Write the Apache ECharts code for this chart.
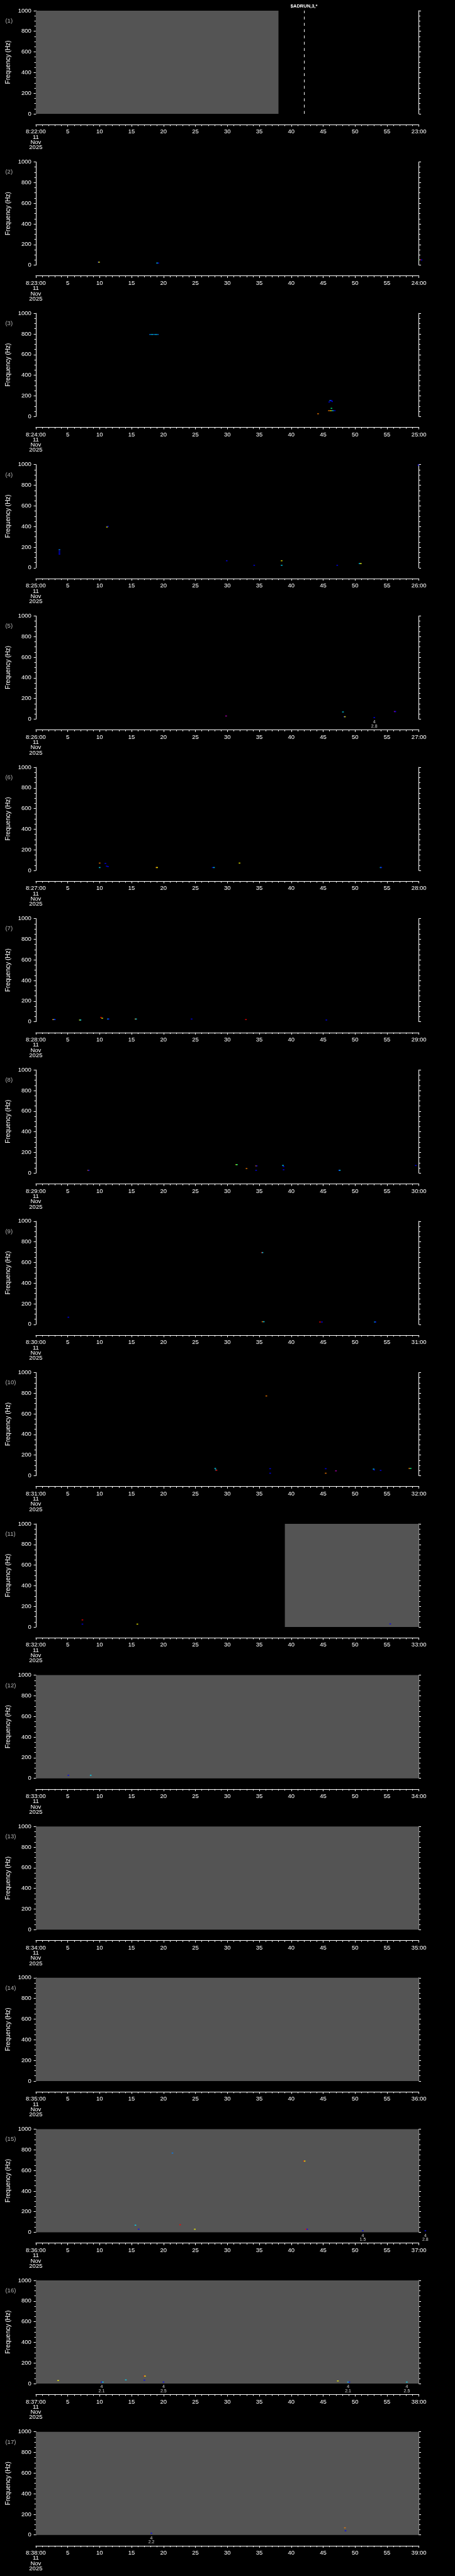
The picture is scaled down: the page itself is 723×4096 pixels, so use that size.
<!DOCTYPE html>
<html>
<head>
<meta charset="utf-8">
<script src="https://cdn.jsdelivr.net/npm/echarts@6/dist/echarts.min.js"></script>
<style>
html, body { margin: 0; padding: 0; background: #000; }
#main { width: 723px; height: 4096px; }
</style>
</head>
<body>
<div id="main"></div>
<script>
// time labels of each one-minute panel
var startLabels = ['8:22:00', '8:23:00', '8:24:00', '8:25:00', '8:26:00', '8:27:00', '8:28:00', '8:29:00', '8:30:00',
  '8:31:00', '8:32:00', '8:33:00', '8:34:00', '8:35:00', '8:36:00', '8:37:00', '8:38:00'];
var endLabels = ['23:00', '24:00', '25:00', '26:00', '27:00', '28:00', '29:00', '30:00', '31:00',
  '32:00', '33:00', '34:00', '35:00', '36:00', '37:00', '38:00', '39:00'];
var dateLines = ['11', 'Nov', '2025'];

// [panel, from s, to s] : no-data (gray) spans
var grayRanges = [[0, 0, 38], [10, 39, 60], [11, 0, 60], [12, 0, 60], [13, 0, 60], [14, 0, 60], [15, 0, 60], [16, 0, 60]];

// [panel, s, text] : dashed event line
var eventLines = [[0, 42, '$ADRUN,3,*']];

var dotColors = ['#0000ff', '#0080ff', '#00e0ff', '#00ff80', '#ffff00', '#ff8000', '#ff0000', '#c000c0'];

// [panel, s, Hz, colour index]
var dots = [
  [1, 9.8, 29, 0], [1, 9.9, 29, 4], [1, 19.0, 20, 2], [1, 19.2, 20, 0], [1, 60.1, 52, 3], [1, 60.2, 52, 6], [1, 60.4, 50, 0],
  [2, 17.9, 795, 1], [2, 18.2, 795, 2], [2, 18.5, 795, 1], [2, 18.8, 795, 2], [2, 19.1, 795, 1],
  [2, 45.95, 140, 0], [2, 46.1, 155, 1], [2, 46.3, 155, 0], [2, 46.4, 145, 0], [2, 46.3, 79, 3],
  [2, 45.9, 56, 5], [2, 46.2, 56, 4], [2, 46.5, 56, 2], [2, 46.8, 56, 0], [2, 44.2, 26, 5],
  [3, 3.7, 175, 1], [3, 3.7, 160, 0], [3, 3.7, 145, 0], [3, 3.7, 132, 0], [3, 11.15, 395, 4], [3, 11.3, 402, 0],
  [3, 29.9, 68, 0], [3, 34.2, 24, 0], [3, 38.5, 68, 4], [3, 38.5, 24, 2], [3, 47.2, 24, 0], [3, 50.7, 41, 2], [3, 50.9, 41, 4],
  [3, 59.9, 995, 0],
  [4, 29.8, 30, 7], [4, 48.1, 69, 2], [4, 48.3, 23, 0], [4, 48.4, 23, 4], [4, 53.0, 15, 0], [4, 56.2, 73, 7], [4, 56.3, 73, 0],
  [5, 10.0, 71, 5], [5, 10.0, 28, 2], [5, 10.9, 68, 0], [5, 11.1, 41, 0], [5, 11.3, 38, 0], [5, 18.9, 28, 5], [5, 19.0, 28, 4],
  [5, 27.7, 28, 0], [5, 27.9, 28, 2], [5, 31.9, 71, 4], [5, 54.0, 28, 2], [5, 54.1, 28, 0],
  [6, 2.7, 21, 5], [6, 2.9, 21, 2], [6, 3.0, 21, 0], [6, 6.9, 17, 4], [6, 7.0, 17, 2], [6, 10.2, 42, 6], [6, 10.4, 34, 4],
  [6, 11.3, 26, 2], [6, 11.4, 26, 0], [6, 15.6, 26, 5], [6, 15.7, 26, 2], [6, 24.4, 26, 0], [6, 32.9, 21, 6], [6, 45.5, 17, 0],
  [7, 8.2, 27, 5], [7, 8.3, 27, 0], [7, 31.4, 82, 4], [7, 31.5, 82, 3], [7, 33.0, 44, 5], [7, 34.5, 70, 5], [7, 34.6, 70, 0],
  [7, 34.5, 27, 0], [7, 38.7, 74, 2], [7, 38.8, 63, 0], [7, 38.8, 32, 0], [7, 47.5, 27, 0], [7, 47.6, 27, 2], [7, 59.5, 73, 0],
  [8, 5.1, 69, 0], [8, 35.4, 696, 6], [8, 35.5, 696, 2], [8, 35.5, 26, 5], [8, 35.7, 26, 2], [8, 44.5, 23, 6], [8, 44.8, 23, 0],
  [8, 53.1, 23, 2], [8, 53.2, 23, 0],
  [9, 36.1, 773, 5], [9, 28.1, 71, 2], [9, 28.2, 56, 2], [9, 28.3, 53, 6], [9, 36.7, 68, 0], [9, 36.7, 24, 0],
  [9, 45.4, 68, 0], [9, 45.4, 24, 5], [9, 47.0, 47, 7], [9, 52.9, 64, 2], [9, 53.0, 56, 0], [9, 54.0, 51, 0],
  [9, 58.5, 71, 5], [9, 58.7, 71, 3],
  [10, 7.3, 69, 6], [10, 7.3, 28, 0], [10, 15.9, 28, 4], [10, 55.5, 30, 0],
  [11, 5.1, 30, 0], [11, 8.6, 30, 2],
  [14, 21.4, 768, 1], [14, 42.0, 690, 6], [14, 42.1, 690, 4], [14, 15.6, 69, 2], [14, 16.1, 30, 0], [14, 22.6, 73, 6],
  [14, 24.9, 30, 4], [14, 42.3, 30, 6], [14, 42.5, 30, 0], [14, 51.2, 15, 0], [14, 61.0, 15, 0],
  [15, 3.5, 30, 4], [15, 10.3, 15, 0], [15, 10.5, 15, 2], [15, 14.1, 36, 2], [15, 17.0, 73, 6], [15, 17.1, 73, 4],
  [15, 17.0, 34, 0], [15, 20.0, 15, 0], [15, 47.3, 26, 4], [15, 48.9, 15, 2], [15, 49.1, 15, 0], [15, 58.1, 15, 2],
  [16, 18.1, 17, 0], [16, 48.4, 69, 5], [16, 48.5, 40, 0]
];

// [panel, s, upper text, lower text] : notes under the plot
var notes = [[4, 53.0, '4', '2.8'], [14, 51.2, '4', '1.5'], [14, 61.0, '4', '2.8'], [15, 10.3, '4', '2.1'],
  [15, 20.0, '4', '2.5'], [15, 48.9, '4', '2.1'], [15, 58.1, '4', '2.5'], [16, 18.1, '4', '2.2']];

var S = 0.705;
var PANEL_H = 341.29 * S;
var FONT = 'Liberation Sans, DejaVu Sans, sans-serif';

var myChart = echarts.init(document.getElementById('main'));
var grids = [], xAxes = [], yAxes = [], series = [], graphics = [];

for (var k = 0; k < startLabels.length; k++) {
  var y0 = k * PANEL_H;
  grids.push({ left: 80.7 * S, width: (944.3 - 80.7) * S, top: y0 + 24 * S, height: 232.7 * S, outerBoundsMode: 'none' });

  (function (k) {
    xAxes.push({
      gridIndex: k, type: 'value', min: 0, max: 60, interval: 5, position: 'bottom',
      offset: 24.3 * S,
      axisLine: { show: true, onZero: false, lineStyle: { color: '#fff', width: 1 } },
      axisTick: { show: true, length: 3.3, lineStyle: { color: '#fff' } },
      minorTick: { show: true, splitNumber: 5, length: 2.3, lineStyle: { color: '#fff' } },
      splitLine: { show: false },
      axisLabel: {
        color: '#fff', fontSize: 9.5, fontFamily: FONT, margin: 7.5, lineHeight: 8.3,
        showMinLabel: true, showMaxLabel: true,
        formatter: function (v) {
          if (v === 0) return startLabels[k] + '\n' + dateLines.join('\n');
          if (v === 60) return endLabels[k];
          return String(v);
        }
      }
    });
  })(k);

  var yBase = {
    gridIndex: k, type: 'value', min: 0, max: 1000, interval: 200,
    axisLine: { show: true, onZero: false, lineStyle: { color: '#fff', width: 1 } },
    axisTick: { show: true, length: 3.3, lineStyle: { color: '#fff' } },
    minorTick: { show: true, splitNumber: 4, length: 2.3, lineStyle: { color: '#fff' } },
    splitLine: { show: false }
  };
  yAxes.push(Object.assign({}, yBase, {
    position: 'left',
    name: 'Frequency (Hz)', nameLocation: 'middle', nameRotate: 90, nameGap: 36,
    nameTextStyle: { color: '#fff', fontSize: 10, fontFamily: FONT },
    axisLabel: { color: '#fff', fontSize: 9.5, fontFamily: FONT, margin: 7, formatter: function (v) { return String(v); } }
  }));
  yAxes.push(Object.assign({}, yBase, { position: 'right', axisLabel: { show: false } }));

  // gray no-data areas
  var areas = grayRanges.filter(function (g) { return g[0] === k; }).map(function (g) {
    return [{ xAxis: g[1], yAxis: 0 }, { xAxis: g[2], yAxis: 1000 }];
  });
  var lines = eventLines.filter(function (e) { return e[0] === k; }).map(function (e) {
    return { xAxis: e[1], name: e[2] };
  });
  series.push({
    type: 'scatter', xAxisIndex: k, yAxisIndex: 2 * k, data: [], z: 1, silent: true,
    markArea: { silent: true, itemStyle: { color: '#545454' }, data: areas },
    markLine: {
      silent: true, symbol: ['none', 'none'],
      lineStyle: { color: '#fff', width: 1, type: [4.5, 5.5] },
      label: { show: true, position: 'end', distance: 3, color: '#fff', fontSize: 7.5, fontWeight: 'bold',
        fontFamily: FONT, formatter: '{b}' },
      data: lines
    }
  });

  // spectrogram pixels
  series.push({
    type: 'scatter', xAxisIndex: k, yAxisIndex: 2 * k, z: 3, clip: false, silent: true,
    symbol: 'rect', symbolSize: [2.6, 1.6],
    data: dots.filter(function (d) { return d[0] === k; }).map(function (d) {
      return { value: [d[1], d[2]], itemStyle: { color: dotColors[d[3]] } };
    })
  });

  // notes under the plot
  series.push({
    type: 'scatter', xAxisIndex: k, yAxisIndex: 2 * k, z: 4, clip: false, silent: true,
    symbolSize: 0,
    label: {
      show: true, position: 'bottom', distance: 1.8, color: '#fff', fontSize: 7, lineHeight: 6.6,
      fontFamily: FONT, formatter: function (p) { return p.data.top + '\n' + p.data.bottom; }
    },
    data: notes.filter(function (n) { return n[0] === k; }).map(function (n) {
      return { value: [n[1], 0], top: n[2], bottom: n[3] };
    })
  });

  graphics.push({
    type: 'text', left: 12 * S, top: y0 + 40 * S,
    style: { text: '(' + (k + 1) + ')', fill: '#b4b4b4', fontSize: 9.5, fontFamily: FONT }
  });
}

var Option = {
  backgroundColor: '#000',
  animation: false,
  grid: grids,
  xAxis: xAxes,
  yAxis: yAxes,
  series: series,
  graphic: graphics
};
Option && myChart.setOption(Option);
</script>
</body>
</html>
